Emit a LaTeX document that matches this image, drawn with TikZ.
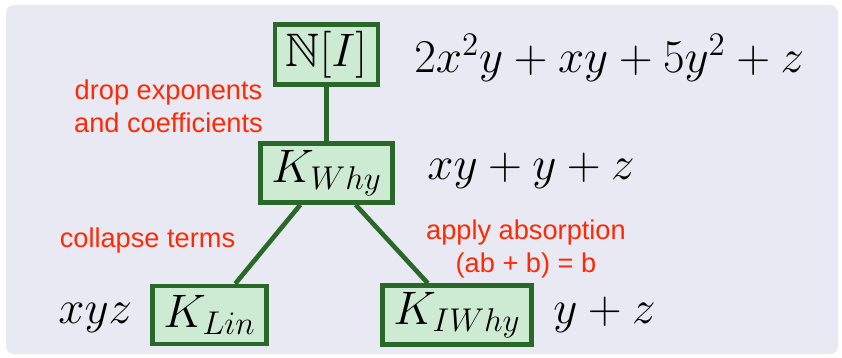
\RequirePackage{fix-cm}
\documentclass[tikz,border=0pt]{standalone}
\usepackage{amsmath,amssymb}
\usepackage{fontspec}
\newfontfamily\notefont{Liberation Sans}
\definecolor{panelColor}{RGB}{233,233,243}
\definecolor{boxFill}{RGB}{205,234,210}
\definecolor{boxLine}{RGB}{42,104,42}
\definecolor{noteColor}{RGB}{255,42,5}

\begin{document}
\begin{tikzpicture}[x=0.5pt, y=-0.5pt,
    semiring/.style={draw=boxLine, fill=boxFill, line width=2.3pt, minimum height=29pt,
      inner xsep=5.4pt, font=\fontsize{23.5}{28}\selectfont},
    poly/.style={inner sep=0pt, anchor=base west, font=\fontsize{23.5}{28}\selectfont},
    note/.style={text=noteColor, font=\notefont\fontsize{13.6}{16.5}\selectfont,
      align=center, inner sep=0pt, anchor=base},
    link/.style={boxLine, line width=2.3pt}]
    % Fondo del panel
    \useasboundingbox (0,0) rectangle (842,358);
    \fill[white] (0,0) rectangle (842,358);
    \fill[panelColor, rounded corners=4pt] (6,5) rectangle (838,354);

    % Semianillos
    \node[semiring] (NI) at (326.5,54.5) {$\mathbb{N}[I]$};
    \node[semiring] (Why) at (326.5,173) {$K_{Why}$};
    \node[semiring] (Lin) at (209.5,315) {$K_{Lin}$};
    \node[semiring] (IWhy) at (457,315) {$K_{IWhy}$};

    % Homomorfismos
    \draw[link] (NI) -- (Why);
    \draw[link] (Why) -- (Lin);
    \draw[link] (Why) -- (IWhy);

    % Polinomios
    \node[poly] (pNI) at (414,73) {$2x^2y + xy + 5y^2 + z$};
    \node[poly] (pWhy) at (427,180) {$xy + y + z$};
    \node[poly] (pLin) at (58,323) {$xyz$};
    \node[poly] (pIWhy) at (553,323) {$y + z$};

    % Notas
    \node[note] (nDrop) at (168.5,133) {drop exponents\\and coefficients};
    \node[note] (nCollapse) at (147.5,248) {collapse terms};
    \node[note] (nAbsorb) at (526,272) {apply absorption\\(ab + b) = b};
\end{tikzpicture}
\end{document}
